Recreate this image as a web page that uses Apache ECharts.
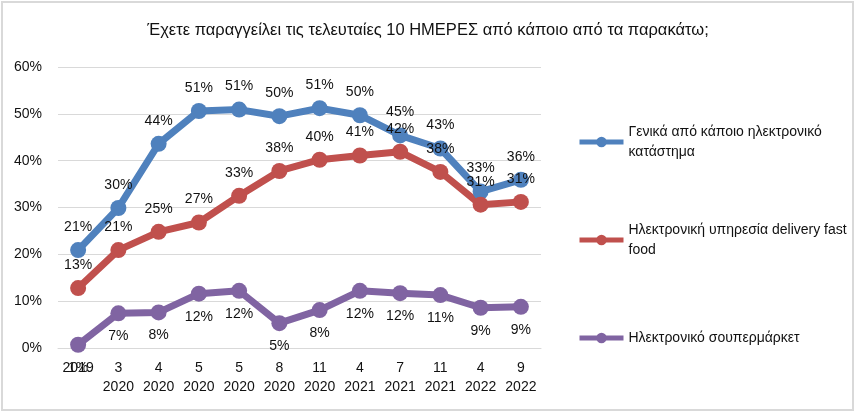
<!DOCTYPE html>
<html>
<head>
<meta charset="utf-8">
<script src="https://cdn.jsdelivr.net/npm/echarts@6/dist/echarts.min.js"></script>
<style>
  html, body { margin: 0; padding: 0; background: #fff; }
  #chart { width: 856px; height: 413px; }
</style>
</head>
<body>
<div id="chart"></div>
<script>
// data (percent)
const months = ['', '3', '4', '5', '5', '8', '11', '4', '7', '11', '4', '9'];
const years = ['2019', '2020', '2020', '2020', '2020', '2020', '2020', '2021', '2021', '2021', '2022', '2022'];
const seriesNames = [
    'Γενικά από κάποιο ηλεκτρονικό κατάστημα',
    'Ηλεκτρονική υπηρεσία delivery fast food',
    'Ηλεκτρονικό σουπερμάρκετ'
];
const legendLines = [
    'Γενικά από κάποιο ηλεκτρονικό\nκατάστημα',
    'Ηλεκτρονική υπηρεσία delivery fast\nfood',
    'Ηλεκτρονικό σουπερμάρκετ'
];
const onlineStore = [20.9, 29.9, 43.6, 50.6, 50.9, 49.5, 51.2, 49.7, 45.4, 42.6, 33.4, 35.9];
const fastFood = [12.8, 20.9, 24.8, 26.8, 32.5, 37.8, 40.2, 41.1, 41.9, 37.6, 30.6, 31.2];
const superMarket = [0.7, 7.4, 7.6, 11.6, 12.2, 5.3, 8.1, 12.2, 11.7, 11.3, 8.6, 8.8];
const yTicks = [0, 10, 20, 30, 40, 50, 60];

const colors = ['#4F81BD', '#C0504D', '#8064A2'];
const font = 'Liberation Sans, Arial, sans-serif';

const categories = months.map((m, i) => m ? m + '\n' + years[i] : years[i]);

function makeSeries(idx, values, labelPos) {
    return {
        name: seriesNames[idx],
        type: 'line',
        data: values,
        symbol: 'circle',
        symbolSize: 16,
        color: colors[idx],
        lineStyle: { width: 7, color: colors[idx] },
        itemStyle: { color: colors[idx] },
        label: {
            show: true,
            position: labelPos,
            distance: 8,
            fontFamily: font,
            fontSize: 14,
            color: '#111',
            formatter: p => Math.round(p.value) + '%'
        },
        emphasis: { disabled: true },
        animation: false
    };
}

function makeLegend(idx, top, twoLines) {
    return {
        show: true,
        data: [{
            name: seriesNames[idx],
            textStyle: twoLines ? { padding: [20, 0, 0, 0] } : {}
        }],
        left: 577,
        top: top,
        padding: 0,
        itemWidth: 44,
        itemHeight: 13,
        lineStyle: { width: 5 },
        selectedMode: false,
        formatter: () => legendLines[idx],
        textStyle: {
            fontFamily: font,
            fontSize: 14,
            lineHeight: 20,
            color: '#111'
        }
    };
}

const chart = echarts.init(document.getElementById('chart'), null, { renderer: 'canvas' });

const option = {
    backgroundColor: '#fff',
    animation: false,
    title: {
        text: 'Έχετε παραγγείλει τις τελευταίες 10 ΗΜΕΡΕΣ από κάποιο από τα παρακάτω;',
        left: 'center',
        top: 22,
        padding: 0,
        textStyle: {
            fontFamily: font,
            fontSize: 16.5,
            fontWeight: 'normal',
            color: '#111'
        }
    },
    graphic: [{
        type: 'rect',
        shape: { x: 2, y: 2, width: 851, height: 408 },
        style: { fill: 'none', stroke: '#d9d9d9', lineWidth: 2 },
        silent: true
    }],
    legend: [
        makeLegend(0, 112, true),
        makeLegend(1, 210, true),
        makeLegend(2, 328, false)
    ],
    grid: {
        left: 58,
        right: 315,
        top: 67,
        bottom: 65
    },
    xAxis: {
        type: 'category',
        data: categories,
        boundaryGap: true,
        axisLine: { show: true, lineStyle: { color: '#d9d9d9', width: 1 } },
        axisTick: { show: false },
        axisLabel: {
            interval: 0,
            margin: 11,
            fontFamily: font,
            fontSize: 14,
            lineHeight: 19,
            color: '#111'
        }
    },
    yAxis: {
        type: 'value',
        min: yTicks[0],
        max: yTicks[yTicks.length - 1],
        interval: 10,
        axisLine: { show: false },
        axisTick: { show: false },
        splitLine: { lineStyle: { color: '#d9d9d9', width: 1 } },
        axisLabel: {
            margin: 16,
            fontFamily: font,
            fontSize: 14,
            color: '#111',
            formatter: '{value}%'
        }
    },
    series: [
        makeSeries(0, onlineStore, 'top'),
        makeSeries(1, fastFood, 'top'),
        makeSeries(2, superMarket, 'bottom')
    ]
};

chart.setOption(option);
</script>
</body>
</html>
